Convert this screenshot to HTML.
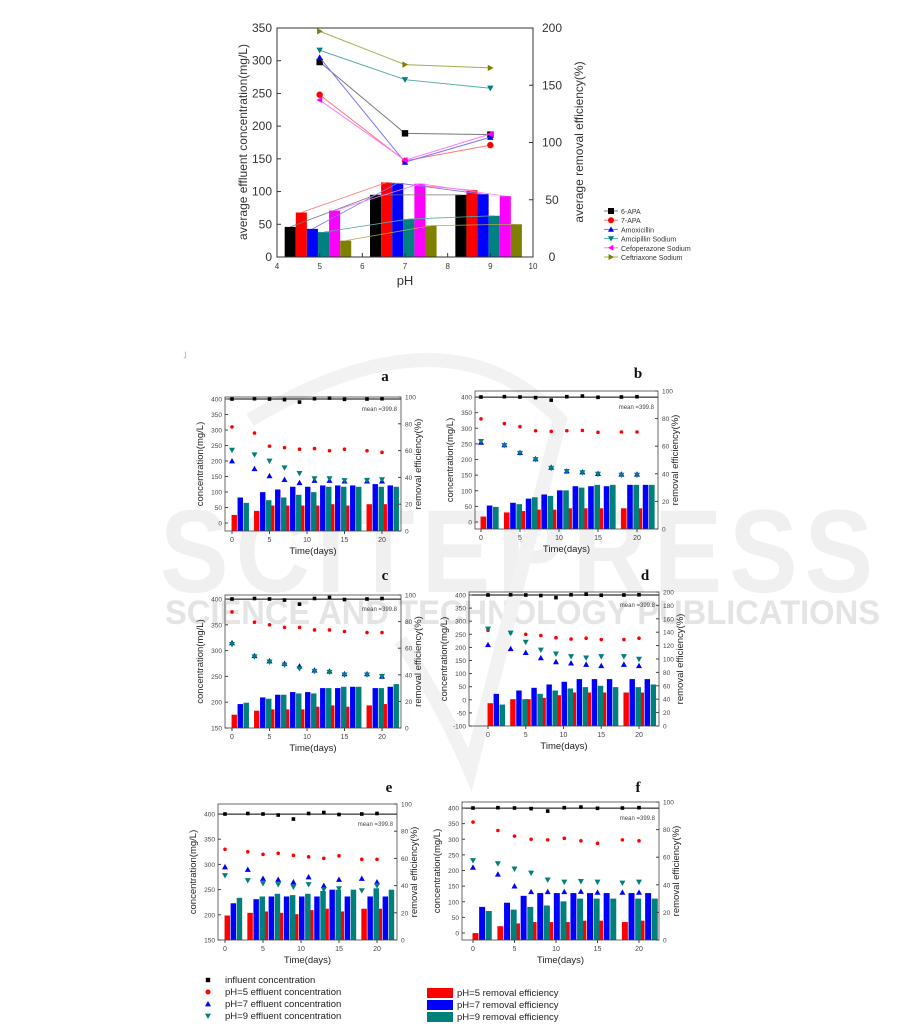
<!DOCTYPE html>
<html><head><meta charset="utf-8"><style>
html,body{margin:0;padding:0;background:#fff;}
svg{display:block;font-family:"Liberation Sans",sans-serif;}
</style></head><body>
<svg id="s" width="901" height="1030" viewBox="0 0 901 1030" xmlns="http://www.w3.org/2000/svg">
<g fill="#f0f0f0">
<text x="160" y="592" font-size="118" font-weight="bold" letter-spacing="8" textLength="720" lengthAdjust="spacingAndGlyphs">SCITEPRESS</text>
<text x="165" y="624" font-size="34" font-weight="bold" fill="#e4e4e4" textLength="715" lengthAdjust="spacingAndGlyphs">SCIENCE AND TECHNOLOGY PUBLICATIONS</text>
</g>
<path d="M250 420 Q450 300 560 420 L470 770 Q440 700 400 640" fill="none" stroke="#f2f2f2" stroke-width="14"/>
<text x="183" y="358" font-size="9" fill="#999">˩</text>
<g id="g"></g>
</svg>
<script>
var G=document.getElementById('g');var h='';
function t(x,y,s,fs,extra){h+='<text x="'+x+'" y="'+y+'" font-size="'+fs+'" '+(extra||'')+'>'+s+'</text>';}
function mk(type,x,y,c,s){s=s||3;
 if(type=='sq')h+='<rect x="'+(x-s)+'" y="'+(y-s)+'" width="'+(2*s)+'" height="'+(2*s)+'" fill="'+c+'"/>';
 else if(type=='ci')h+='<circle cx="'+x+'" cy="'+y+'" r="'+s+'" fill="'+c+'"/>';
 else if(type=='up')h+='<polygon points="'+x+','+(y-s)+' '+(x-s)+','+(y+s*0.8)+' '+(x+s)+','+(y+s*0.8)+'" fill="'+c+'"/>';
 else if(type=='dn')h+='<polygon points="'+x+','+(y+s)+' '+(x-s)+','+(y-s*0.8)+' '+(x+s)+','+(y-s*0.8)+'" fill="'+c+'"/>';
 else if(type=='lt')h+='<polygon points="'+(x-s)+','+y+' '+(x+s*0.8)+','+(y-s)+' '+(x+s*0.8)+','+(y+s)+'" fill="'+c+'"/>';
 else if(type=='rt')h+='<polygon points="'+(x+s)+','+y+' '+(x-s*0.8)+','+(y-s)+' '+(x-s*0.8)+','+(y+s)+'" fill="'+c+'"/>';
}
var X=function(p){return 277+(p-4)*256/6;},Y=function(v){return 257-v*229/350;};
var cols=['#000','#f00','#00f','#008080','#f0f','#808000'];
var lcol=['#777','#f77','#77f','#5aa','#f7f','#aa5'];
var bars=[[46,95,95],[68,114,102],[43,113,96],[38,58,63],[71,112,93],[25,48,50]];
var pHs=[5,7,9];
for(var i=0;i<6;i++)for(var j=0;j<3;j++){var x0=X(pHs[j]-0.82+i*0.26);h+='<rect x="'+x0+'" y="'+Y(bars[i][j])+'" width="'+(0.26*256/6)+'" height="'+(257-Y(bars[i][j]))+'" fill="'+cols[i]+'"/>';}
for(var i=0;i<6;i++){var pts=[];for(var j=0;j<3;j++)pts.push(X(pHs[j]-0.82+i*0.26+0.13)+','+Y(bars[i][j]));h+='<polyline points="'+pts.join(' ')+'" fill="none" stroke="'+lcol[i]+'" stroke-width="0.8"/>';}
var lines=[[298,189,187],[248,147,171],[305,145,183],[316,271,258],[240,148,188],[345,294,289]];
var mt=['sq','ci','up','dn','lt','rt'];
for(var i=0;i<6;i++){var pts=[];for(var j=0;j<3;j++)pts.push(X(pHs[j])+','+Y(lines[i][j]));h+='<polyline points="'+pts.join(' ')+'" fill="none" stroke="'+lcol[i]+'" stroke-width="1"/>';for(var j=0;j<3;j++)mk(mt[i],X(pHs[j]),Y(lines[i][j]),cols[i],3.2);}
h+='<rect x="277" y="28" width="256" height="229" fill="none" stroke="#333" stroke-width="1"/>';
for(var v=0;v<=350;v+=50){h+='<line x1="277" x2="281" y1="'+Y(v)+'" y2="'+Y(v)+'" stroke="#333"/>';t(272,Y(v)+4,v,12,'text-anchor="end" fill="#333"');}
for(var v=0;v<=200;v+=50){var yy=257-v*229/200;h+='<line x1="529" x2="533" y1="'+yy+'" y2="'+yy+'" stroke="#333"/>';t(552,yy+4,v,12,'text-anchor="middle" fill="#333"');}
for(var p=4;p<=10;p++){h+='<line x1="'+X(p)+'" x2="'+X(p)+'" y1="253" y2="257" stroke="#333"/>';t(X(p),269,p,8,'text-anchor="middle" fill="#333"');}
t(405,285,'pH',13,'text-anchor="middle" fill="#333"');
t(0,0,'average effluent concentration(mg/L)',12,'transform="translate(247,142) rotate(-90)" text-anchor="middle" fill="#333"');
t(0,0,'average removal efficiency(%)',12,'transform="translate(583,142) rotate(-90)" text-anchor="middle" fill="#333"');
var ln=['6-APA','7-APA','Amoxicillin','Amcipillin Sodium','Cefoperazone Sodium','Ceftriaxone Sodium'];
for(var i=0;i<6;i++){var yy=211+i*9.2;h+='<line x1="604" x2="618" y1="'+yy+'" y2="'+yy+'" stroke="'+lcol[i]+'"/>';mk(mt[i],611,yy,cols[i],3);t(621,yy+3,ln[i],7,'fill="#333"');}
var days=[0,3,5,7,9,11,13,15,18,20];
function sub(P){
 var xd=function(d){return P.x0+(d)*(P.x20-P.x0)/20;};
 var yl=function(v){return P.lb+(v-P.lmin)*(P.lt-P.lb)/(P.lmax-P.lmin);};
 var yr=function(v){return P.B+(v)*(P.T-P.B)/P.rmax;};
 var bw=0.72*(P.x20-P.x0)/20;
 var bc=['#f00','#00f','#00807a'],off=[0.3,1.1,1.9];
 for(var k=0;k<3;k++)for(var i=0;i<10;i++){var v=P.bars[k][i];var xc=xd(days[i]+off[k]);var yy=yr(v);h+='<rect x="'+(xc-bw/2)+'" y="'+yy+'" width="'+bw+'" height="'+(P.B-yy)+'" fill="'+bc[k]+'"/>';}
 var mc=['#f00','#00f','#00807a'],mtp=['ci','up','dn'];
 for(var k=0;k<3;k++)for(var i=0;i<10;i++)mk(mtp[k],xd(days[i]),yl(P.m[k][i]),mc[k],k==0?1.8:3);
 var inf=[400,401,400,398,390,401,403,399,400,401];
 for(var i=0;i<10;i++)mk('sq',xd(days[i]),yl(inf[i]),'#000',1.8);
 h+='<line x1="'+P.L+'" x2="'+P.R+'" y1="'+yl(399.8)+'" y2="'+yl(399.8)+'" stroke="#000" stroke-width="1"/>';
 t(P.R-4,yl(399.8)+12,'mean =399.8',6,'text-anchor="end" fill="#444"');
 h+='<rect x="'+P.L+'" y="'+P.T+'" width="'+(P.R-P.L)+'" height="'+(P.B-P.T)+'" fill="none" stroke="#444" stroke-width="0.8"/>';
 for(var v=P.lmin;v<=P.lmax;v+=P.lstep){var yy=yl(v);h+='<line x1="'+P.L+'" x2="'+(P.L+3)+'" y1="'+yy+'" y2="'+yy+'" stroke="#444"/>';t(P.L-3,yy+2.5,v,6.5,'text-anchor="end" fill="#444"');}
 for(var v=0;v<=P.rmax;v+=P.rstep){var yy=yr(v);h+='<line x1="'+(P.R-3)+'" x2="'+P.R+'" y1="'+yy+'" y2="'+yy+'" stroke="#444"/>';t(P.R+4,yy+2.5,v,6.5,'fill="#444"');}
 for(var d=0;d<=20;d+=5){h+='<line x1="'+xd(d)+'" x2="'+xd(d)+'" y1="'+P.B+'" y2="'+(P.B+3)+'" stroke="#444"/>';t(xd(d),P.B+11,d,7,'text-anchor="middle" fill="#444"');}
 t((P.L+P.R)/2,P.B+23,'Time(days)',9.5,'text-anchor="middle" fill="#222"');
 t(0,0,'concentration(mg/L)',9.5,'transform="translate('+(P.L-22)+','+((P.T+P.B)/2)+') rotate(-90)" text-anchor="middle" fill="#222"');
 t(0,0,'removal efficiency(%)',9.5,'transform="translate('+(P.R+(P.rmax>100?24:20))+','+((P.T+P.B)/2)+') rotate(-90)" text-anchor="middle" fill="#222"');
 t(P.lx,P.ly,P.lab,15,'font-family="Liberation Serif" font-weight="bold" fill="#111" text-anchor="middle"');
}
sub({L:225,R:401,T:397,B:531,x0:232,x20:382,lmin:0,lmax:400,lb:523,lt:399,lstep:50,rmax:100,rstep:20,lab:'a',lx:385,ly:381,
 bars:[[12,15,19,19,19,19,20,19,20,20],[25,29,31,33,33,34,34,34,35,34],[21,23,25,27,29,33,33,33,33,33]],
 m:[[310,290,248,243,238,240,233,238,233,228],[200,175,152,140,130,137,137,135,135,135],[235,220,200,178,160,143,143,137,138,140]]});
sub({L:475,R:658,T:391,B:529,x0:481,x20:637,lmin:0,lmax:400,lb:522,lt:397,lstep:50,rmax:100,rstep:20,lab:'b',lx:638,ly:378,
 bars:[[9,12,13,14,14,15,15,15,15,15],[17,19,22,25,28,31,31,31,32,32],[16,18,23,24,28,30,32,32,32,32]],
 m:[[330,315,305,292,290,292,293,287,288,288],[255,247,222,202,175,163,160,155,153,153],[258,245,220,200,172,162,158,153,150,150]]});
sub({L:225,R:401,T:595,B:728,x0:232,x20:382,lmin:150,lmax:400,lb:728,lt:599,lstep:50,rmax:100,rstep:20,lab:'c',lx:385,ly:580,
 bars:[[10,13,14,14,14,16,17,16,17,18],[18,23,25,27,27,30,30,31,30,31],[19,22,25,26,26,30,31,31,30,33]],
 m:[[375,355,350,345,345,340,340,337,335,335],[315,290,280,275,270,262,260,255,255,250],[312,288,278,272,265,260,258,253,253,250]]});
sub({L:469,R:659,T:592,B:726,x0:488,x20:639,lmin:-100,lmax:400,lb:726,lt:595,lstep:50,rmax:200,rstep:20,lab:'d',lx:645,ly:580,
 bars:[[34,40,40,42,46,50,50,50,50,50],[48,53,57,62,66,70,70,70,70,70],[32,40,48,53,56,58,60,58,58,62]],
 m:[[265,255,250,245,237,232,235,230,230,235],[210,195,180,160,145,140,135,130,135,130],[270,255,220,190,175,165,160,165,165,155]]});
sub({L:218,R:397,T:804,B:940,x0:225,x20:377,lmin:150,lmax:400,lb:940,lt:814,lstep:50,rmax:100,rstep:20,lab:'e',lx:389,ly:792,
 bars:[[18,20,21,20,19,22,23,21,23,23],[27,30,32,32,32,32,37,32,32,32],[31,32,34,33,34,36,37,37,38,37]],
 m:[[330,325,320,322,318,315,312,317,310,310],[295,290,272,270,265,275,258,270,272,265],[278,268,262,260,255,260,250,252,248,258]]});
sub({L:462,R:659,T:802,B:940,x0:473,x20:639,lmin:0,lmax:400,lb:933,lt:808,lstep:50,rmax:100,rstep:20,lab:'f',lx:638,ly:792,
 bars:[[5,10,12,13,13,13,14,14,13,14],[24,27,32,34,34,34,34,34,34,34],[21,22,24,25,28,30,30,30,30,30]],
 m:[[355,328,310,300,298,303,295,287,298,295],[210,188,150,132,132,132,133,130,130,130],[232,222,205,192,170,163,165,163,160,163]]});
mk('sq',208,980,'#000',2.2);t(225,983,'influent concentration',9.5,'fill="#222"');
mk('ci',208,992,'#f00',2.5);t(225,995,'pH=5 effluent concentration',9.5,'fill="#222"');
mk('up',208,1004,'#00f',3);t(225,1007,'pH=7 effluent concentration',9.5,'fill="#222"');
mk('dn',208,1016,'#00807a',3);t(225,1019,'pH=9 effluent concentration',9.5,'fill="#222"');
var lb=[['#f00','pH=5 removal efficiency',993],['#00f','pH=7 removal efficiency',1005],['#00807a','pH=9 removal efficiency',1017]];
for(var i=0;i<3;i++){h+='<rect x="427" y="'+(lb[i][2]-5)+'" width="26" height="10" fill="'+lb[i][0]+'"/>';t(457,lb[i][2]+3,lb[i][1],9.5,'fill="#222"');}
G.innerHTML=h;
</script>
</body></html>
